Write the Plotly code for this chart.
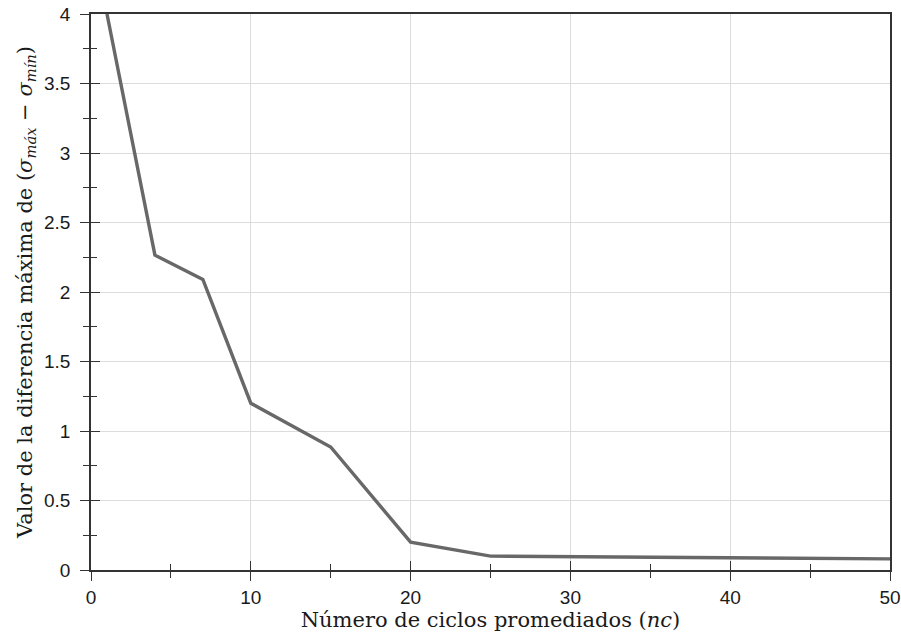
import plotly.graph_objects as go

nc = [1, 4, 7, 10, 15, 20, 25, 30, 40, 50]
diff = [4.0, 2.265, 2.09, 1.20, 0.885, 0.20, 0.10, 0.095, 0.088, 0.08]

x_ticks = [0, 10, 20, 30, 40, 50]
y_ticks = [0, 0.5, 1, 1.5, 2, 2.5, 3, 3.5, 4]
y_labels = ["0", "0.5", "1", "1.5", "2", "2.5", "3", "3.5", "4"]

axis_col = "#333333"
fig = go.Figure()
fig.add_trace(go.Scatter(x=nc, y=diff, mode="lines",
                         line=dict(color="#686868", width=3.4),
                         showlegend=False, hoverinfo="skip"))
# empty trace on overlay axes to draw inward ticks (crossing tick marks)
fig.add_trace(go.Scatter(x=[], y=[], xaxis="x2", yaxis="y2", showlegend=False))

tickfont = dict(family="Liberation Sans, Arial, sans-serif", size=19, color="#1a1a1a")
titlefont = dict(family="DejaVu Serif, serif", size=21, color="#1a1a1a")

fig.update_layout(
    width=901, height=639,
    margin=dict(l=91, r=11, t=14, b=69),
    paper_bgcolor="white", plot_bgcolor="white",
    xaxis=dict(range=[0, 50], tickvals=x_ticks, ticktext=[str(v) for v in x_ticks],
               ticks="outside", ticklen=9, tickwidth=1.3, tickcolor=axis_col,
               minor=dict(dtick=5, ticks="outside", ticklen=6, tickwidth=1.3,
                          tickcolor=axis_col, showgrid=False),
               showgrid=True, gridcolor="#dcdcdc", gridwidth=1.3,
               showline=True, linecolor=axis_col, linewidth=1.6, mirror=True,
               zeroline=False, tickfont=tickfont, automargin=False,
               title=dict(text="Número de ciclos promediados (<i>nc</i>)", font=titlefont, standoff=4)),
    yaxis=dict(range=[0, 4], tickvals=y_ticks, ticktext=y_labels,
               ticks="outside", ticklen=9, tickwidth=1.3, tickcolor=axis_col,
               minor=dict(dtick=0.25, ticks="outside", ticklen=6, tickwidth=1.3,
                          tickcolor=axis_col, showgrid=False),
               showgrid=True, gridcolor="#dcdcdc", gridwidth=1.3,
               showline=True, linecolor=axis_col, linewidth=1.6, mirror=True,
               zeroline=False, tickfont=tickfont, automargin=False, ticklabelstandoff=6,
               title=dict(text="Valor de la diferencia máxima de (<i>σ</i><sub><i>máx</i></sub> − <i>σ</i><sub><i>mín</i></sub>)",
                          font=titlefont, standoff=6)),
    xaxis2=dict(range=[0, 50], overlaying="x", anchor="y2", side="bottom",
                tickvals=x_ticks, ticks="inside", ticklen=9, tickwidth=1.3, tickcolor=axis_col,
                minor=dict(dtick=5, ticks="inside", ticklen=6, tickwidth=1.3, tickcolor=axis_col),
                showticklabels=False, showgrid=False, showline=False, zeroline=False),
    yaxis2=dict(range=[0, 4], overlaying="y", anchor="x2", side="left",
                tickvals=y_ticks, ticks="inside", ticklen=9, tickwidth=1.3, tickcolor=axis_col,
                minor=dict(dtick=0.25, ticks="inside", ticklen=6, tickwidth=1.3, tickcolor=axis_col),
                showticklabels=False, showgrid=False, showline=False, zeroline=False),
)

fig.write_html("out.html")
